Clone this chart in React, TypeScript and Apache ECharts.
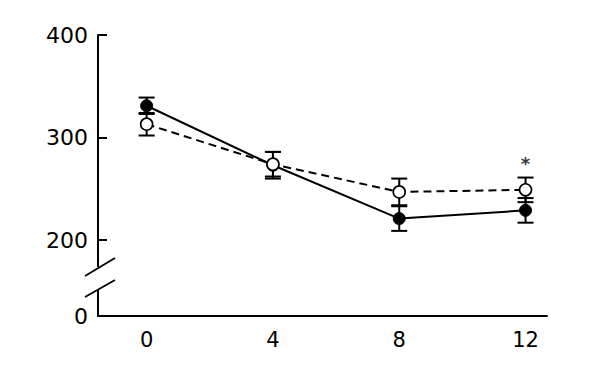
import React, { useEffect, useRef } from "react";
import * as echarts from "echarts";

const xValues = [0, 4, 8, 12];
const filledMean = [331, 273, 221, 229];
const filledSE = [8, 13, 12, 12];
const openMean = [313, 274, 247, 249];
const openSE = [11, 12, 13, 12];
const yTickValues = [200, 300, 400];
const xTickValues = [0, 4, 8, 12];
const Y_BOTTOM = 126; // shown as "0" across the axis break
const starPoint = [12, 275];

const FONT = "DejaVu Sans";

function errorSeries(mean: number[], se: number[]) {
  return {
    type: "custom",
    z: 1,
    silent: true,
    data: xValues.map((x, i) => [x, mean[i] - se[i], mean[i] + se[i]]),
    renderItem: (params: any, api: any) => {
      const x = api.value(0);
      const lo = api.coord([x, api.value(1)]);
      const hi = api.coord([x, api.value(2)]);
      const hw = 8;
      const style = { stroke: "#000", lineWidth: 2 };
      return {
        type: "group",
        children: [
          { type: "line", shape: { x1: lo[0], y1: lo[1], x2: hi[0], y2: hi[1] }, style },
          { type: "line", shape: { x1: lo[0] - hw, y1: lo[1], x2: lo[0] + hw, y2: lo[1] }, style },
          { type: "line", shape: { x1: hi[0] - hw, y1: hi[1], x2: hi[0] + hw, y2: hi[1] }, style },
        ],
      };
    },
  };
}

export default function App() {
  const ref = useRef<HTMLDivElement>(null);
  useEffect(() => {
    if (!ref.current) return;
    const chart = echarts.init(ref.current, null, { renderer: "svg" });
    chart.setOption({
      animation: false,
      backgroundColor: "#fff",
      grid: { left: 98, right: 53, top: 35, bottom: 60 },
      xAxis: {
        type: "value",
        min: -1.54,
        max: 12.68,
        axisLine: { onZero: false, lineStyle: { color: "#000", width: 2 } },
        axisTick: { show: false },
        splitLine: { show: false },
        axisLabel: {
          customValues: xTickValues,
          color: "#000",
          fontFamily: FONT,
          fontSize: 21,
          margin: 13,
        },
      },
      yAxis: {
        type: "value",
        min: Y_BOTTOM,
        max: 400,
        axisLine: { show: true, onZero: false, lineStyle: { color: "#000", width: 2 } },
        axisTick: {
          show: true,
          inside: true,
          length: 9,
          customValues: yTickValues,
          lineStyle: { color: "#000", width: 2 },
        },
        splitLine: { show: false },
        axisLabel: {
          customValues: [Y_BOTTOM, ...yTickValues],
          formatter: (v: number) => (v === Y_BOTTOM ? "0" : String(v)),
          color: "#000",
          fontFamily: FONT,
          fontSize: 22,
          margin: 10,
        },
      },
      graphic: [
        { type: "rect", shape: { x: 92, y: 267, width: 12, height: 22 }, style: { fill: "#fff" }, z: 100 },
        { type: "line", shape: { x1: 85, y1: 276, x2: 115, y2: 258 }, style: { stroke: "#000", lineWidth: 1.8 }, z: 101 },
        { type: "line", shape: { x1: 85, y1: 297, x2: 115, y2: 280 }, style: { stroke: "#000", lineWidth: 1.8 }, z: 101 },
      ],
      series: [
        errorSeries(filledMean, filledSE),
        errorSeries(openMean, openSE),
        {
          type: "line",
          z: 3,
          data: xValues.map((x, i) => [x, filledMean[i]]),
          symbol: "circle",
          symbolSize: 12,
          lineStyle: { color: "#000", width: 2 },
          itemStyle: { color: "#000", borderColor: "#000", borderWidth: 1 },
        },
        {
          type: "line",
          z: 4,
          data: xValues.map((x, i) => [x, openMean[i]]),
          symbol: "circle",
          symbolSize: 12,
          lineStyle: { color: "#000", width: 2, type: [8, 5] },
          itemStyle: { color: "#fff", borderColor: "#000", borderWidth: 1.6 },
        },
        {
          type: "scatter",
          z: 5,
          data: [starPoint],
          symbolSize: 0,
          label: {
            show: true,
            position: "inside",
            formatter: "*",
            color: "#000",
            fontFamily: FONT,
            fontWeight: "bold",
            fontSize: 18,
          },
        },
      ],
    });
    return () => chart.dispose();
  }, []);
  return (
    <div
      ref={ref}
      style={{ position: "absolute", left: 0, top: 0, width: 600, height: 376 }}
    />
  );
}
